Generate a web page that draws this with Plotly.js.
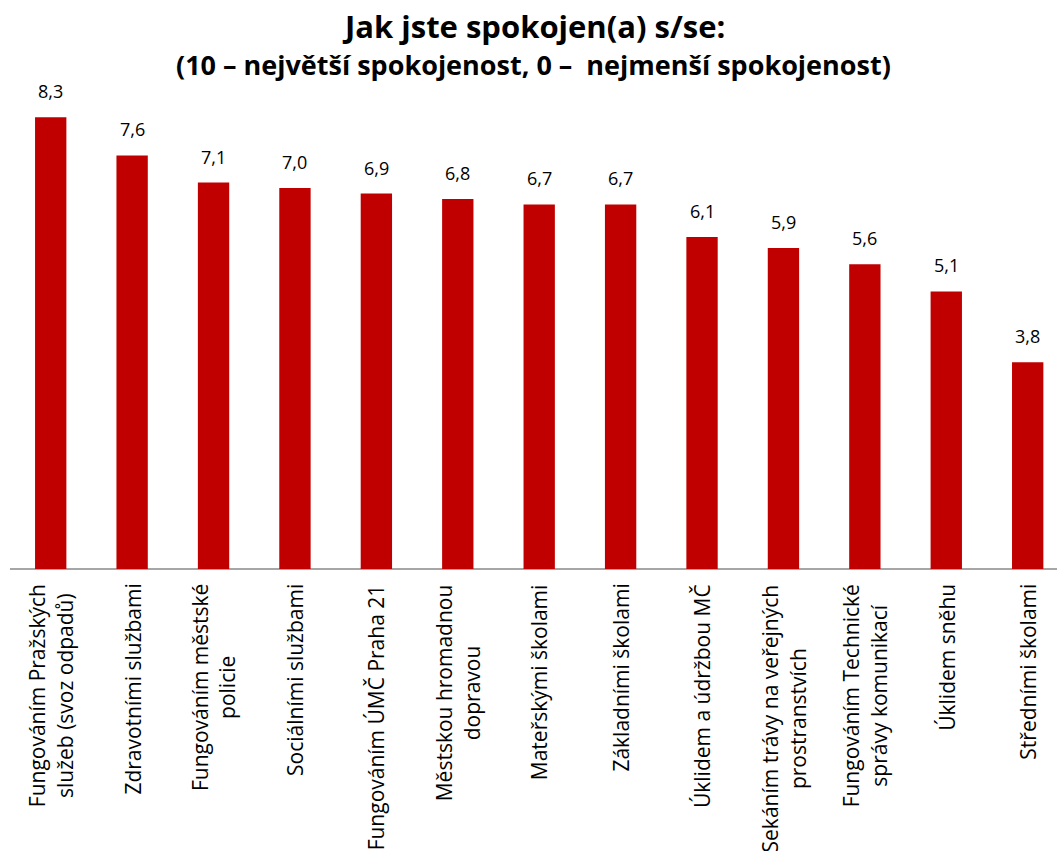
<!DOCTYPE html>
<html><head><meta charset="utf-8">
<script src="https://cdn.plot.ly/plotly-3.0.1.min.js"></script>
<style>body{margin:0;background:#fff}#c{width:1057px;height:851px}</style>
</head><body><div id="c"></div>
<script>
const categories = [
  "Fungováním Pražských<br>služeb (svoz odpadů)",
  "Zdravotními službami",
  "Fungováním městské<br>policie",
  "Sociálními službami",
  "Fungováním ÚMČ Praha 21",
  "Městskou hromadnou<br>dopravou",
  "Mateřskými školami",
  "Základními školami",
  "Úklidem a údržbou MČ",
  "Sekáním trávy na veřejných<br>prostranstvích",
  "Fungováním Technické<br>správy komunikací",
  "Úklidem sněhu",
  "Středními školami"
];
const values = [8.3, 7.6, 7.1, 7.0, 6.9, 6.8, 6.7, 6.7, 6.1, 5.9, 5.6, 5.1, 3.8];
const valueLabels = ["8,3","7,6","7,1","7,0","6,9","6,8","6,7","6,7","6,1","5,9","5,6","5,1","3,8"];
const titleText = "Jak jste spokojen(a) s/se:";
const subtitleText = "(10 – největší spokojenost, 0 –&nbsp; nejmenší spokojenost)";

const idx = categories.map((c,i)=>i);
const trace = {
  type: 'bar', x: idx, y: values,
  marker: {color: '#C00000'}, width: 0.385, hoverinfo: 'skip'
};
const annotations = [];
idx.forEach(i => {
  annotations.push({x: i, y: values[i], xref: 'x', yref: 'y', text: valueLabels[i],
    showarrow: false, yanchor: 'bottom', yshift: 12,
    font: {family: 'Open Sans', size: 18, color: '#000'}});
  annotations.push({x: i, y: 0, xref: 'x', yref: 'y', text: categories[i],
    showarrow: false, textangle: -90, yanchor: 'top', xanchor: 'center', yshift: -13, align: 'center',
    font: {family: 'Open Sans', size: 21, color: '#000'}});
});
annotations.push({x: 0.5, y: 1, xref: 'paper', yref: 'paper', yanchor: 'middle', yshift: 69,
  text: '<b>' + titleText + '</b>', showarrow: false,
  font: {family: 'Open Sans', size: 31, color: '#000'}});
annotations.push({x: 0.5, y: 1, xref: 'paper', yref: 'paper', yanchor: 'middle', yshift: 31,
  text: '<b>' + subtitleText + '</b>', showarrow: false,
  font: {family: 'Open Sans', size: 27, color: '#000'}});

const layout = {
  width: 1057, height: 851,
  margin: {l: 10, r: 0, t: 95, b: 282},
  paper_bgcolor: '#fff', plot_bgcolor: '#fff',
  showlegend: false,
  xaxis: {type: 'linear', range: [-0.5, 12.36], showticklabels: false, ticks: '',
    showgrid: false, zeroline: false, showline: false, fixedrange: true},
  yaxis: {range: [0, 8.71], showticklabels: false, showgrid: false, zeroline: true,
    zerolinecolor: '#A6A6A6', zerolinewidth: 2, fixedrange: true},
  annotations: annotations
};
Plotly.newPlot('c', [trace], layout, {displayModeBar: false, staticPlot: true});
</script></body></html>
